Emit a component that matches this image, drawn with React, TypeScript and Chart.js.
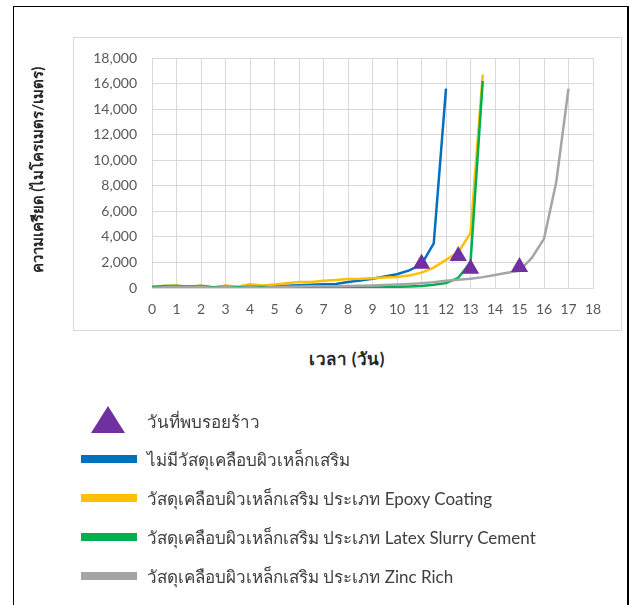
import React, { useEffect, useRef } from "react";
import { Chart, registerables } from "chart.js";

Chart.register(...registerables);

const days = [0, 0.5, 1, 1.5, 2, 2.5, 3, 3.5, 4, 4.5, 5, 5.5, 6, 6.5, 7, 7.5, 8, 8.5, 9, 9.5, 10, 10.5, 11, 11.5, 12, 12.5, 13, 13.5, 14, 14.5, 15, 15.5, 16, 16.5, 17];

const noCoating = [100, 120, 150, 100, 150, 30, 150, 50, 100, 80, 150, 180, 220, 250, 300, 320, 470, 580, 720, 900, 1080, 1380, 1850, 3500, 15600];
const epoxy = [100, 150, 200, 100, 200, 30, 200, 100, 300, 200, 280, 370, 460, 470, 560, 630, 700, 720, 770, 820, 860, 980, 1200, 1600, 2200, 2800, 4300, 16700];
const latex = [50, 150, 150, 120, 150, 50, 100, 50, 100, 80, 60, 50, 50, 50, 50, 50, 40, 40, 40, 60, 90, 120, 150, 250, 380, 800, 2000, 16200];
const zinc = [0, 50, 100, 50, 100, 0, 80, 0, 50, 0, 80, 100, 120, 130, 130, 140, 150, 180, 200, 230, 270, 320, 380, 460, 560, 640, 720, 850, 1020, 1200, 1350, 2350, 3850, 8300, 15600];

const crackDays = [11, 12.5, 13, 15];
const crackStrain = [1900, 2500, 1510, 1640];

const xTicksMax = 18;
const yTicksMax = 18000;
const yStep = 2000;

const seriesLabels = [
  "วันที่พบรอยร้าว",
  "ไม่มีวัสดุเคลือบผิวเหล็กเสริม",
  "วัสดุเคลือบผิวเหล็กเสริม ประเภท Epoxy Coating",
  "วัสดุเคลือบผิวเหล็กเสริม ประเภท Latex Slurry Cement",
  "วัสดุเคลือบผิวเหล็กเสริม ประเภท Zinc Rich",
];
const seriesColors = ["#7030A0", "#0070C0", "#FFC000", "#00B050", "#A5A5A5"];
const xTitle = "เวลา (วัน)";
const yTitle = "ความเครียด (ไมโครเมตร/เมตร)";

const FONT = "Lato, 'Noto Sans', 'DejaVu Sans', sans-serif";

const toPts = (vals: number[]) => vals.map((v, i) => ({ x: days[i], y: v }));

export default function App() {
  const ref = useRef<HTMLCanvasElement | null>(null);
  useEffect(() => {
    if (!ref.current) return;
    const lineDs = (idx: number, vals: number[], order: number) => ({
      label: seriesLabels[idx],
      data: toPts(vals),
      borderColor: seriesColors[idx],
      backgroundColor: seriesColors[idx],
      borderWidth: 2.5,
      pointRadius: 0,
      showLine: true,
      tension: 0,
      order,
    });
    const chart = new Chart(ref.current, {
      type: "scatter",
      data: {
        datasets: [
          {
            label: seriesLabels[0],
            data: crackDays.map((d, i) => ({ x: d, y: crackStrain[i] })),
            pointStyle: "triangle",
            pointRadius: 8.5,
            borderWidth: 1.5,
            borderColor: seriesColors[0],
            backgroundColor: seriesColors[0],
            showLine: false,
            order: 0,
          } as any,
          lineDs(1, noCoating, 4),
          lineDs(2, epoxy, 3),
          lineDs(3, latex, 2),
          lineDs(4, zinc, 1),
        ],
      },
      options: {
        animation: false,
        responsive: false,
        layout: { padding: { left: 92, top: 58, right: 36, bottom: 12 } },
        plugins: { legend: { display: false }, tooltip: { enabled: false } },
        scales: {
          x: {
            type: "linear",
            min: 0,
            max: xTicksMax,
            afterFit: (s: any) => { s.height = 40; },
            ticks: { stepSize: 1, padding: 13, color: "#595959", font: { family: FONT, size: 14 } },
            grid: { color: "#d9d9d9", drawTicks: false },
            border: { color: "#d9d9d9" },
          },
          y: {
            min: 0,
            max: yTicksMax,
            afterFit: (s: any) => { s.width = 60; },
            ticks: {
              stepSize: yStep,
              padding: 15,
              color: "#595959",
              font: { family: FONT, size: 14 },
              callback: (v: any) => Number(v).toLocaleString("en-US"),
            },
            grid: { color: "#d9d9d9", drawTicks: false },
            border: { color: "#d9d9d9" },
          },
        },
      },
    });
    return () => chart.destroy();
  }, []);

  const legendRowsY = [459, 498, 537, 576];
  return (
    <div style={{ position: "absolute", left: 0, top: 0, width: 629, height: 605, overflow: "hidden", background: "#fff", fontFamily: FONT }}>
      <div style={{ position: "absolute", left: 13, top: 6, width: 640, height: 640, borderLeft: "1px solid #000", borderTop: "1px solid #000", boxSizing: "border-box" }} />
      <div style={{ position: "absolute", left: 627, top: 6, width: 2, height: 640, background: "#000" }} />
      <div style={{ position: "absolute", left: 73, top: 37, width: 549, height: 294, border: "1px solid #d9d9d9", boxSizing: "border-box" }} />
      <canvas ref={ref} width={629} height={340} style={{ position: "absolute", left: 0, top: 0 }} />
      <div style={{ position: "absolute", left: 38, top: 170, transform: "translate(-50%, -50%) rotate(-90deg)", whiteSpace: "nowrap", fontWeight: "bold", fontSize: 15, color: "#262626" }}>{yTitle}</div>
      <div style={{ position: "absolute", left: 347, top: 358, transform: "translate(-50%, -50%)", whiteSpace: "nowrap", fontWeight: "bold", fontSize: 17, letterSpacing: 0.5, color: "#262626" }}>{xTitle}</div>
      <svg style={{ position: "absolute", left: 0, top: 0 }} width={629} height={605}>
        <polygon points="91,433 125,433 108,406" fill={seriesColors[0]} />
        {legendRowsY.map((y, i) => (
          <rect key={i} x={81} y={y - 4} width={56} height={8} fill={seriesColors[i + 1]} />
        ))}
      </svg>
      {[421, ...legendRowsY].map((y, i) => (
        <div key={i} style={{ position: "absolute", left: 147, top: y, transform: "translateY(-50%)", whiteSpace: "nowrap", fontSize: 17, color: "#404040" }}>{seriesLabels[i]}</div>
      ))}
    </div>
  );
}
